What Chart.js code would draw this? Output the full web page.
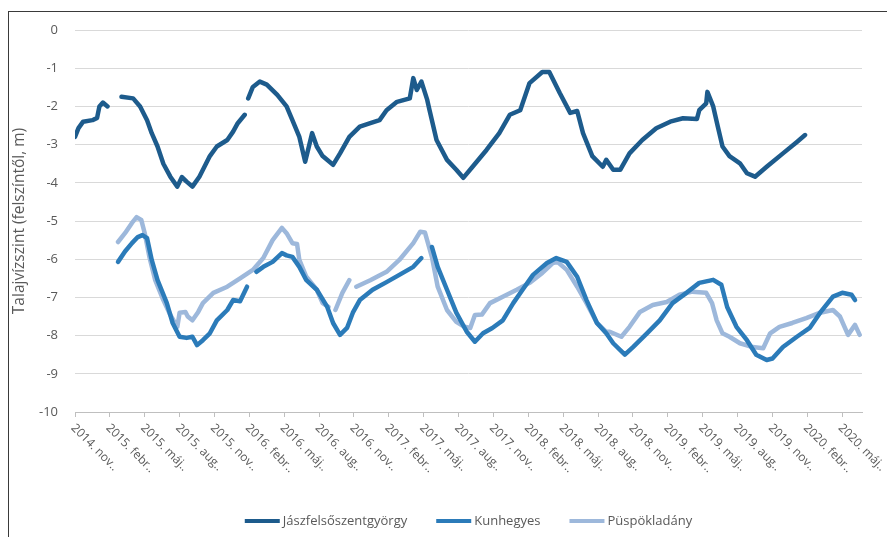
<!DOCTYPE html>
<html lang="hu">
<head>
    <meta charset="UTF-8">
    <title>Talajvízszint</title>
    <script src="https://cdn.jsdelivr.net/npm/chart.js"></script>
    <style>
        body { margin: 0; background: #fff; }
        #keret { position: absolute; left: 8px; top: 11px; width: 950px; height: 600px; border: 1px solid #3a3a3a; }
        #chartContainer { position: absolute; left: 0; top: 0; width: 887px; height: 537px; }
    </style>
</head>
<body>
    <div id="keret"></div>
    <div id="chartContainer">
        <canvas id="myChart"></canvas>
    </div>

    <script>
        // x: hónapok 2014. november óta
        const tickLabels = ['2014. nov..', '2015. febr..', '2015. máj..', '2015. aug..', '2015. nov..',
            '2016. febr..', '2016. máj..', '2016. aug..', '2016. nov..', '2017. febr..', '2017. máj..',
            '2017. aug..', '2017. nov..', '2018. febr..', '2018. máj..', '2018. aug..', '2018. nov..',
            '2019. febr..', '2019. máj..', '2019. aug..', '2019. nov..', '2020. febr..', '2020. máj..'];
        const yTicks = [0, -1, -2, -3, -4, -5, -6, -7, -8, -9, -10];

        const jaszHonap = [0, 0.3, 0.7, 1.5, 1.9, 2.1, 2.4, 2.8, 3.4, 4.0, 5.0, 5.6, 6.2, 6.6, 7.1, 7.6, 8.2, 8.8, 9.2, 9.6,
            10.1, 10.7, 11.6, 12.2, 13.1, 13.6, 14.0, 14.6, 14.75, 14.9, 15.3, 15.9, 16.5, 17.4, 18.2, 18.7, 19.3, 19.8,
            20.4, 20.8, 21.3, 22.2, 22.8, 23.6, 24.5, 25.4, 26.2, 26.8, 27.7, 28.8, 29.1, 29.4, 29.8, 30.3, 30.5, 31.1,
            32.0, 32.8, 33.4, 34.2, 35.4, 36.5, 37.4, 38.3, 39.1, 40.2, 40.8, 41.7, 42.6, 43.2, 43.7, 44.5, 45.4, 45.7,
            46.3, 46.9, 47.7, 48.8, 50.0, 51.2, 52.3, 53.5, 53.7, 54.3, 54.4, 54.9, 55.3, 55.7, 56.3, 57.2, 57.8, 58.5,
            59.5, 60.9, 62.1, 62.8];
        const jaszSzint = [-2.8, -2.57, -2.4, -2.36, -2.3, -2.0, -1.9, -2.0, null, -1.75, -1.79, -2.0, -2.36, -2.7, -3.05,
            -3.5, -3.84, -4.1, -3.85, -3.97, -4.1, -3.84, -3.3, -3.05, -2.88, -2.66, -2.44, -2.22, null, -1.79, -1.49,
            -1.35, -1.43, -1.7, -2.0, -2.36, -2.8, -3.45, -2.7, -3.05, -3.3, -3.53, -3.23, -2.8, -2.53, -2.44, -2.36,
            -2.1, -1.88, -1.79, -1.26, -1.57, -1.35, -1.83, -2.1, -2.88, -3.4, -3.66, -3.87, -3.58, -3.14, -2.7, -2.22,
            -2.1, -1.39, -1.1, -1.1, -1.65, -2.17, -2.12, -2.7, -3.3, -3.58, -3.4, -3.66, -3.66, -3.23, -2.88, -2.57,
            -2.4, -2.31, -2.33, -2.1, -1.92, -1.62, -2.0, -2.53, -3.05, -3.3, -3.49, -3.75, -3.84, -3.58, -3.23, -2.93,
            -2.75];

        const kunHonap = [3.7, 4.3, 4.9, 5.4, 5.8, 6.2, 6.6, 7.1, 7.9, 8.4, 9.0, 9.6, 10.1, 10.5, 11.0, 11.6, 12.2, 13.1,
            13.6, 14.2, 14.8, 15.2, 15.6, 16.2, 17.0, 17.8, 18.2, 18.7, 19.3, 19.9, 20.8, 21.7, 22.2, 22.8, 23.4, 23.9,
            24.5, 25.6, 26.8, 27.9, 29.1, 29.8, 30.2, 30.7, 31.2, 32.0, 32.8, 33.7, 34.4, 35.1, 35.9, 36.8, 37.7, 38.5,
            39.4, 40.6, 41.4, 42.3, 43.2, 44.0, 44.9, 45.7, 46.3, 47.3, 48.0, 49.2, 50.3, 51.4, 52.6, 53.7, 54.9, 55.6,
            56.1, 56.9, 57.8, 58.6, 59.5, 60.0, 60.9, 62.1, 63.2, 64.1, 65.2, 66.0, 66.8, 67.1];
        const kunSzint = [-6.07, -5.8, -5.58, -5.42, -5.37, -5.45, -6.02, -6.55, -7.15, -7.67, -8.03, -8.06, -8.03, -8.25,
            -8.12, -7.94, -7.6, -7.33, -7.07, -7.1, -6.72, null, -6.33, -6.2, -6.07, -5.84, -5.9, -5.94, -6.2, -6.55,
            -6.8, -7.25, -7.67, -7.98, -7.8, -7.4, -7.07, -6.8, -6.6, -6.41, -6.2, -5.97, null, -5.68, -6.2, -6.8, -7.4,
            -7.9, -8.16, -7.94, -7.8, -7.6, -7.15, -6.8, -6.41, -6.1, -5.97, -6.07, -6.46, -7.07, -7.67, -7.94, -8.2,
            -8.5, -8.3, -7.94, -7.6, -7.15, -6.88, -6.62, -6.54, -6.67, -7.25, -7.77, -8.12, -8.5, -8.64, -8.6, -8.3,
            -8.03, -7.8, -7.4, -6.98, -6.88, -6.93, -7.07];

        const puspHonap = [3.7, 4.3, 4.9, 5.3, 5.7, 6.0, 6.4, 6.9, 7.6, 8.2, 8.8, 9.0, 9.5, 9.7, 10.1, 10.6, 11.0, 11.9,
            13.1, 14.2, 15.3, 16.2, 17.0, 17.8, 18.2, 18.7, 19.1, 19.3, 19.9, 20.8, 21.3, 21.8, 22.1, 22.4, 23.0, 23.6,
            23.9, 24.2, 25.4, 26.8, 27.9, 29.1, 29.7, 30.1, 30.7, 31.2, 32.0, 32.8, 33.5, 34.0, 34.4, 35.0, 35.7, 36.8,
            38.0, 39.1, 40.2, 41.1, 41.5, 42.3, 43.2, 44.0, 44.9, 45.7, 46.0, 47.0, 47.7, 48.6, 49.7, 50.9, 52.0, 53.1,
            54.3, 54.8, 55.2, 55.7, 56.3, 57.2, 58.3, 59.2, 59.8, 60.6, 61.7, 62.9, 64.1, 65.2, 65.8, 66.5, 67.1, 67.5];
        const puspSzint = [-5.55, -5.32, -5.05, -4.9, -4.97, -5.32, -5.94, -6.55, -7.07, -7.46, -7.77, -7.4, -7.38, -7.5,
            -7.6, -7.38, -7.15, -6.88, -6.72, -6.5, -6.28, -5.97, -5.5, -5.18, -5.32, -5.58, -5.6, -6.02, -6.46, -6.8,
            -7.15, -7.25, null, -7.33, -6.88, -6.55, null, -6.72, -6.55, -6.33, -6.02, -5.58, -5.28, -5.3, -5.94, -6.72,
            -7.33, -7.64, -7.77, -7.8, -7.46, -7.45, -7.15, -6.98, -6.8, -6.62, -6.36, -6.1, -6.07, -6.28, -6.72, -7.15,
            -7.67, -7.9, -7.9, -8.03, -7.77, -7.38, -7.2, -7.12, -6.93, -6.85, -6.88, -7.15, -7.6, -7.94, -8.03, -8.2,
            -8.3, -8.33, -7.94, -7.77, -7.67, -7.54, -7.4, -7.33, -7.5, -7.98, -7.72, -7.98];

        const pontok = (xs, ys) => xs.map((x, i) => ({ x: x, y: ys[i] }));

        // elforgatott dátumcímkék és jelmagyarázat
        const rajzPlugin = {
            id: 'rajzPlugin',
            afterDraw(chart) {
                const ctx = chart.ctx;
                const area = chart.chartArea;
                const xScale = chart.scales.x;
                ctx.save();
                ctx.fillStyle = '#595959';
                ctx.font = '12px "Open Sans", sans-serif';
                ctx.textAlign = 'left';
                ctx.textBaseline = 'middle';
                tickLabels.forEach((t, i) => {
                    const px = xScale.getPixelForValue(i * 3);
                    ctx.save();
                    ctx.translate(px - 2, area.bottom + 14);
                    ctx.rotate(Math.PI / 4);
                    ctx.fillText(t, 0, 0);
                    ctx.restore();
                });

                // jelmagyarázat
                ctx.font = '13px "Open Sans", sans-serif';
                const sets = chart.data.datasets;
                const lineW = 35, gap = 3, itemGap = 29;
                const widths = sets.map(d => ctx.measureText(d.label).width);
                const total = widths.reduce((a, w) => a + lineW + gap + w, 0) + itemGap * (sets.length - 1);
                let x = (area.left + area.right) / 2 - total / 2;
                const y = 521;
                sets.forEach((d, i) => {
                    ctx.strokeStyle = d.borderColor;
                    ctx.lineWidth = 4;
                    ctx.beginPath();
                    ctx.moveTo(x, y);
                    ctx.lineTo(x + lineW, y);
                    ctx.stroke();
                    ctx.fillText(d.label, x + lineW + gap, y);
                    x += lineW + gap + widths[i] + itemGap;
                });
                ctx.restore();
            }
        };

        Chart.defaults.font.family = '"Open Sans", sans-serif';
        Chart.defaults.color = '#595959';

        const ctx = document.getElementById('myChart').getContext('2d');
        const myChart = new Chart(ctx, {
            type: 'line',
            data: {
                datasets: [{
                    label: 'Jászfelsőszentgyörgy',
                    data: pontok(jaszHonap, jaszSzint),
                    borderColor: '#1d5b8c'
                }, {
                    label: 'Kunhegyes',
                    data: pontok(kunHonap, kunSzint),
                    borderColor: '#2b7bb9'
                }, {
                    label: 'Püspökladány',
                    data: pontok(puspHonap, puspSzint),
                    borderColor: '#9db8db'
                }]
            },
            options: {
                responsive: true,
                maintainAspectRatio: false,
                animation: false,
                spanGaps: false,
                elements: {
                    point: { radius: 0 },
                    line: { borderWidth: 4.5, tension: 0, borderJoinStyle: 'round', borderCapStyle: 'round' }
                },
                layout: { padding: { top: 30, left: 8, right: 25, bottom: 0 } },
                plugins: {
                    legend: { display: false },
                    tooltip: { enabled: false }
                },
                scales: {
                    x: {
                        type: 'linear',
                        min: 0,
                        max: 67.7,
                        ticks: { display: false, stepSize: 3, includeBounds: false },
                        grid: { drawOnChartArea: false, drawTicks: true, tickLength: 5, color: '#bfbfbf' },
                        border: { color: '#bfbfbf' },
                        afterFit: scale => { scale.height = 125; }
                    },
                    y: {
                        min: -10,
                        max: 0,
                        afterBuildTicks: scale => { scale.ticks = yTicks.map(v => ({ value: v })); },
                        ticks: { padding: 17, font: { size: 13 }, color: '#595959' },
                        grid: { color: '#d9d9d9', drawTicks: false },
                        border: { display: false },
                        title: { display: true, text: 'Talajvízszint (felszíntől, m)', font: { size: 15.5 }, color: '#595959', padding: { top: 2, bottom: 4 } },
                        afterFit: scale => { scale.width = 67; }
                    }
                }
            },
            plugins: [rajzPlugin]
        });
    </script>
</body>
</html>
